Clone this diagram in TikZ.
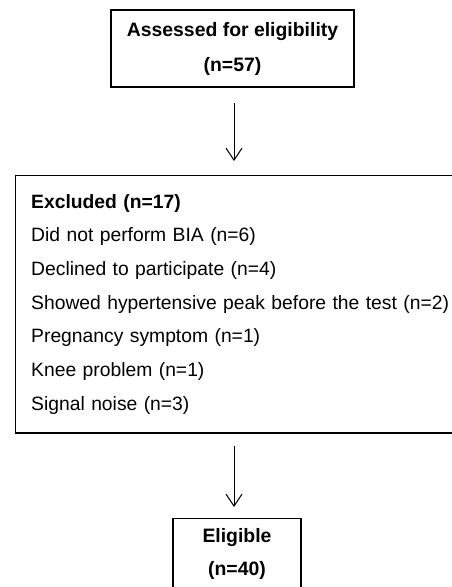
\documentclass[tikz,border=0pt]{standalone}
\usepackage{fontspec}
\setmainfont{Liberation Sans}
\usepackage{tikz}
\usetikzlibrary{arrows.meta,positioning,calc}

\begin{document}
\begin{tikzpicture}[
    x=1pt, y=-1pt,
    box/.style={rectangle, draw, line width=1.4pt, align=center, font=\fontsize{19.4}{35}\selectfont\bfseries},
    listbox/.style={box, align=left, text width=423pt, inner xsep=15.5pt, inner ysep=18.5pt, font=\fontsize{19.3}{33.7}\selectfont},
    arrow/.style={-{Straight Barb[length=12pt,width=16pt]}, line width=1pt}
]
    \useasboundingbox (0,0) rectangle (452,587);

    \node[box, minimum width=243pt, minimum height=77pt] (assess) at (232.5,48.5) {Assessed for eligibility\\(n=57)};
    \node[listbox, anchor=north west] (excluded) at (15,175) {\textbf{Excluded (n=17)}\\
        Did not perform BIA (n=6)\\
        Declined to participate (n=4)\\
        Showed hypertensive peak before the test (n=2)\\
        Pregnancy symptom (n=1)\\
        Knee problem (n=1)\\
        Signal noise (n=3)};
    \node[box, anchor=north, minimum width=128pt, inner ysep=10pt, font=\fontsize{19.4}{33}\selectfont\bfseries] (eligible) at (237,518) {Eligible\\(n=40)};

    \draw[arrow, shorten <=15pt, shorten >=14pt] ([xshift=1.5pt]assess.south) -- ([xshift=1.5pt]assess.south |- excluded.north);
    \draw[arrow, shorten <=12pt, shorten >=11pt] ([xshift=-3pt]eligible.north |- excluded.south) -- ([xshift=-3pt]eligible.north);
\end{tikzpicture}
\end{document}
